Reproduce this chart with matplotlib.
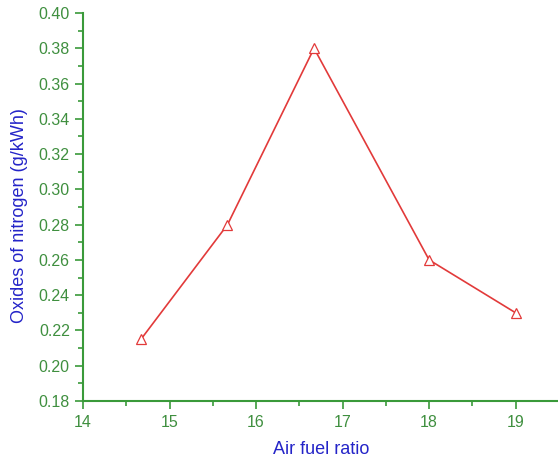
import matplotlib
matplotlib.use('Agg')
import matplotlib.pyplot as plt
from matplotlib.ticker import MultipleLocator

plt.rcParams['font.family'] = ['Liberation Sans', 'DejaVu Sans']

# NOx emission vs air fuel ratio
air_fuel = [14.67, 15.67, 16.67, 18.0, 19.0]
nox = [0.215, 0.28, 0.38, 0.26, 0.23]

green = '#3a9a3a'
label_green = '#3f8f3f'
blue = '#2424c8'
red = '#e23a3a'

fig = plt.figure(figsize=(5.58, 4.57), dpi=100)
ax = fig.add_axes([0.1487, 0.1225, 0.853, 0.849])

ax.plot(air_fuel, nox, color=red, lw=1.2, marker='^', markersize=7,
        markerfacecolor='white', markeredgecolor=red, markeredgewidth=0.9)

ax.set_xlim(14, 19.5)
ax.set_ylim(0.18, 0.40)
ax.xaxis.set_major_locator(MultipleLocator(1))
ax.xaxis.set_minor_locator(MultipleLocator(0.5))
ax.yaxis.set_major_locator(MultipleLocator(0.02))
ax.yaxis.set_minor_locator(MultipleLocator(0.01))
ax.yaxis.set_major_formatter(plt.FormatStrFormatter('%.2f'))

for side in ['top', 'right']:
    ax.spines[side].set_visible(False)
for side in ['left', 'bottom']:
    ax.spines[side].set_color(green)
    ax.spines[side].set_linewidth(1.5)

ax.tick_params(which='major', direction='out', length=6, width=1.2,
               color=green, labelcolor=label_green, labelsize=11.5)
ax.tick_params(which='minor', direction='out', length=3.5, width=1.2, color=green)
ax.tick_params(axis='x', pad=4)

ax.set_xlabel('Air fuel ratio', fontsize=13, color=blue, labelpad=8)
ax.set_ylabel('Oxides of nitrogen (g/kWh)', fontsize=13, color=blue)
ax.yaxis.set_label_coords(-0.116, 0.477)

fig.savefig('out.png', dpi=100)
